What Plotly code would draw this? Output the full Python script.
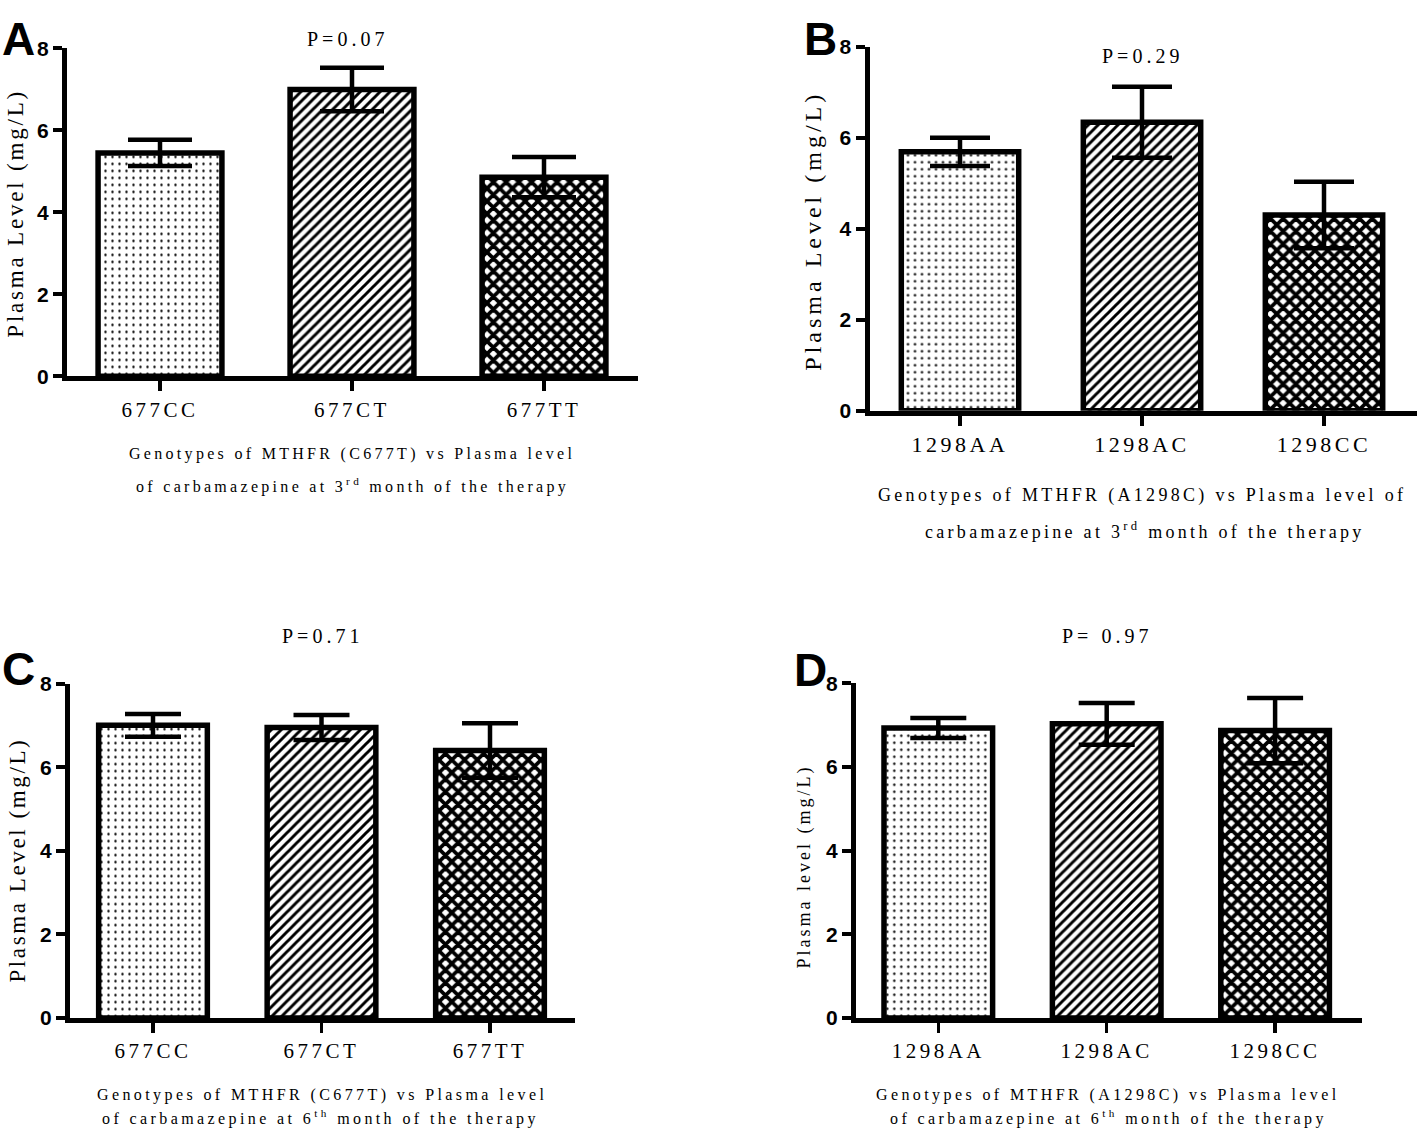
import plotly.graph_objects as go

W, H = 1417, 1137

# ---------------- data ----------------
genotypes_c677t = ["677CC", "677CT", "677TT"]
genotypes_a1298c = ["1298AA", "1298AC", "1298CC"]

means_A = [5.45, 7.00, 4.86]   # C677T, 3rd month
sem_A = [0.32, 0.53, 0.49]
means_B = [5.69, 6.34, 4.30]   # A1298C, 3rd month
sem_B = [0.31, 0.78, 0.73]
means_C = [7.00, 6.95, 6.40]   # C677T, 6th month
sem_C = [0.27, 0.30, 0.65]
means_D = [6.93, 7.03, 6.87]   # A1298C, 6th month
sem_D = [0.24, 0.50, 0.78]

y_ticks = [0, 2, 4, 6, 8]
p_values = ["P=0.07", "P=0.29", "P=0.71", "P= 0.97"]
panel_letters = ["A", "B", "C", "D"]
y_titles = ["Plasma Level (mg/L)", "Plasma Level (mg/L)", "Plasma Level (mg/L)", "Plasma level (mg/L)"]
captions = [
    ["Genotypes of MTHFR (C677T) vs Plasma level", "of carbamazepine at 3<sup>rd</sup> month of the therapy"],
    ["Genotypes of MTHFR (A1298C) vs Plasma level of", "carbamazepine at 3<sup>rd</sup> month of the therapy"],
    ["Genotypes of MTHFR (C677T) vs Plasma level", "of carbamazepine at 6<sup>th</sup> month of the therapy"],
    ["Genotypes of MTHFR (A1298C) vs Plasma level", "of carbamazepine at 6<sup>th</sup> month of the therapy"],
]

SERIF = "Liberation Serif, Times New Roman, serif"
SANS = "Liberation Sans, Arial, sans-serif"


def sp(text, ls):
    return f'<span style="letter-spacing:{ls}px">{text}</span>'


def T(y, lo=0.0, hi=H):
    # vertical placement correction observed in the rendered picture
    return min(max(y / 0.98 - 11.5, lo), hi)


def px(x):
    return x / W


def py(y):
    return 1 - y / H


# panel geometry (pixels): y-axis x, right end, y of zero, y of 8, first tick x, category spacing
geo = [
    dict(ax=64.5, xr=638, y0=376.7, y8=47.7, t0=160, u=192, cap=32),
    dict(ax=867, xr=1417, y0=411, y8=46, t0=960, u=182, cap=30),
    dict(ax=67.5, xr=575, y0=1018.5, y8=683, t0=153, u=168.5, cap=28),
    dict(ax=853.3, xr=1361.7, y0=1018.5, y8=682.7, t0=938.3, u=168.4, cap=28),
]
cats = [genotypes_c677t, genotypes_a1298c, genotypes_c677t, genotypes_a1298c]
means = [means_A, means_B, means_C, means_D]
sems = [sem_A, sem_B, sem_C, sem_D]

fig = go.Figure()
LW = 5
layout_axes = {}
for i, g in enumerate(geo):
    k = "" if i == 0 else str(i + 1)
    xl = g["ax"] + LW / 2
    yb = T(g["y0"] - 1)
    yt = T(g["y8"])
    r0 = (xl - g["t0"]) / g["u"]
    r1 = (g["xr"] - g["t0"]) / g["u"]
    fig.add_trace(go.Bar(
        x=list(range(3)), y=means[i],
        width=0.645,
        marker=dict(
            color="white",
            line=dict(color="black", width=5.5),
            pattern=dict(shape=[".", "/", "x"], size=[7, 7, 9], solidity=[0.09, 0.42, 0.65],
                         fgcolor="black", bgcolor="white", fillmode="replace"),
        ),
        error_y=dict(type="data", array=sems[i], visible=True, color="black",
                     thickness=4.5, width=g["cap"]),
        xaxis="x" + k, yaxis="y" + k, showlegend=False, hoverinfo="skip",
    ))
    fs_tick = 22 if i == 1 else 21
    layout_axes["xaxis" + k] = dict(
        domain=[px(xl), px(g["xr"])], range=[r0, r1], anchor="y" + k,
        tickmode="array", tickvals=list(range(3)), ticktext=[sp(c, 3.5) for c in cats[i]],
        showline=True, linecolor="black", linewidth=LW, ticks="outside", ticklen=10,
        tickwidth=3.5, tickcolor="black", showgrid=False, zeroline=False,
        tickfont=dict(family=SERIF, size=fs_tick, color="black"), fixedrange=True,
    )
    layout_axes["yaxis" + k] = dict(
        domain=[py(yb), py(yt)], range=[0, 8], anchor="x" + k,
        tickmode="array", tickvals=y_ticks, ticktext=[str(v) for v in y_ticks],
        showline=True, linecolor="black", linewidth=LW, ticks="outside", ticklen=9,
        tickwidth=4, tickcolor="black", showgrid=False, zeroline=False,
        tickfont=dict(family=SANS, size=21, color="black", weight="bold"), fixedrange=True,
    )

fig.update_layout(**layout_axes)

ann = []
# panel letters (A and B kept fully inside the top edge)
letter_pos = [(18, None), (820, None), (18, 668), (810, 669)]
for L, (x, y) in zip(panel_letters, letter_pos):
    if y is None:
        ann.append(dict(text=f"<b>{L}</b>", x=px(x), y=1.0, xref="paper", yref="paper",
                        showarrow=False, xanchor="center", yanchor="top", borderpad=0,
                        font=dict(family=SANS, size=46, color="black")))
    else:
        ann.append(dict(text=f"<b>{L}</b>", x=px(x), y=py(T(y)), xref="paper", yref="paper",
                        showarrow=False, xanchor="center", yanchor="middle",
                        font=dict(family=SANS, size=46, color="black")))
# p values
p_pos = [(347, 38), (1142, 55), (322, 635), (1107, 635)]
for t, (x, y) in zip(p_values, p_pos):
    ann.append(dict(text=sp(t, 4), x=px(x), y=py(T(y)), xref="paper", yref="paper",
                    showarrow=False, xanchor="center", yanchor="middle",
                    font=dict(family=SERIF, size=20, color="black")))
# y-axis titles
yt_pos = [(16, 213, 23, 2.8), (813, 230, 24, 4), (18, 860, 23, 2.6), (805, 866, 18, 3)]
for t, (x, y, fs, ls) in zip(y_titles, yt_pos):
    ann.append(dict(text=sp(t, ls), x=px(x), y=py(T(y)), xref="paper", yref="paper",
                    showarrow=False, xanchor="center", yanchor="middle", textangle=-90,
                    font=dict(family=SERIF, size=fs, color="black")))
# captions
cap_pos = [((352, 453), (352, 485), 16, 3.3),
           ((1142, 495), (1145, 530), 18, 3.3),
           ((322, 1095), (320, 1127), 16, 3.4),
           ((1108, 1095), (1108, 1127), 16, 3.4)]
for lines, (p1, p2, fs, ls) in zip(captions, cap_pos):
    for t, (x, y) in zip(lines, [p1, p2]):
        ann.append(dict(text=sp(t, ls), x=px(x), y=py(T(y, hi=H - 9)), xref="paper", yref="paper",
                        showarrow=False, xanchor="center", yanchor="middle",
                        font=dict(family=SERIF, size=fs, color="black")))

fig.update_layout(
    width=W, height=H, autosize=False,
    margin=dict(l=0, r=0, t=0, b=0),
    paper_bgcolor="white", plot_bgcolor="white",
    annotations=ann, bargap=0.3,
)

fig.write_html(
    "out.html",
    config={"displayModeBar": False, "staticPlot": True},
    post_script=(
        "document.documentElement.style.margin='0px';"
        "document.body.style.margin='0px';document.body.style.padding='0px';"
        "document.body.style.overflow='hidden';"
        "var d=document.getElementById('{plot_id}');"
        "d.style.position='fixed';d.style.top='0px';d.style.left='0px';"
    ),
)
